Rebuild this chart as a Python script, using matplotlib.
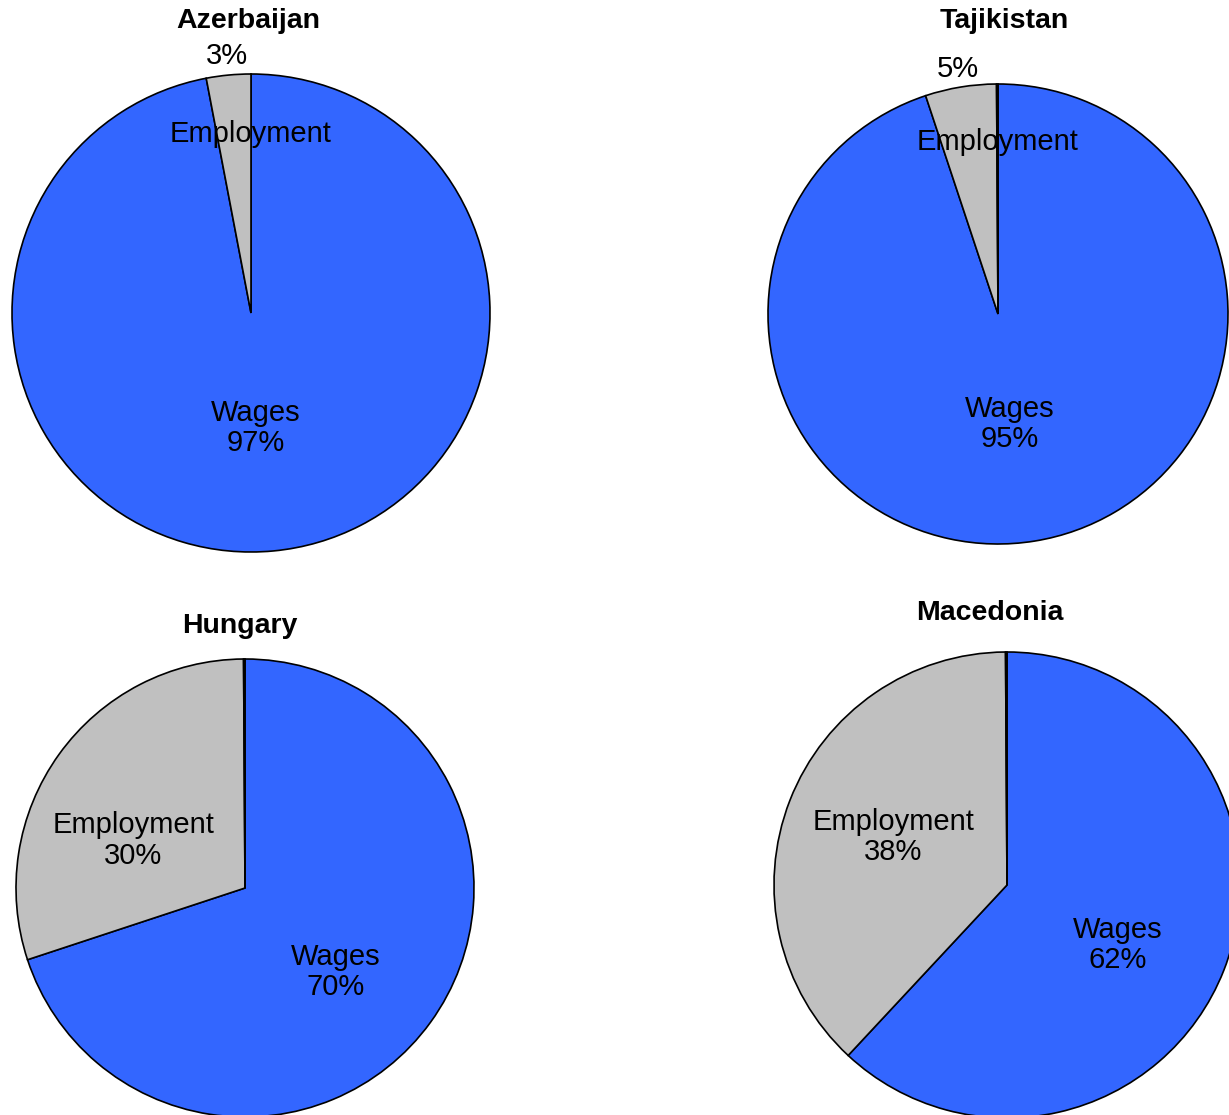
import numpy as np
import matplotlib.pyplot as plt

plt.rcParams['font.family'] = ['Liberation Sans', 'DejaVu Sans']

countries = ['Azerbaijan', 'Tajikistan', 'Hungary', 'Macedonia']
wages = [97, 95, 70, 62]
employment = [3, 5, 30, 38]
other = [0.0, 0.1, 0.1, 0.1]

# pie centre (px from top-left), radius (px), title position (px)
W, H = 1229, 1115
centers = [(251, 313), (998, 314), (245, 888), (1007, 885)]
radii = [239, 230, 229, 233]
title_pos = [(248, 21), (1004, 21), (240, 626), (990, 613)]

blue = '#3366FF'
grey = '#C0C0C0'
fs = 21

fig = plt.figure(figsize=(W / 100, H / 100), dpi=100)

for i, name in enumerate(countries):
    cx, cy = centers[i]
    r = radii[i]
    ax = fig.add_axes([(cx - r) / W, 1 - (cy + r) / H, 2 * r / W, 2 * r / H])
    vals = [wages[i], employment[i]]
    cols = [blue, grey]
    if other[i] > 0:
        vals.append(other[i])
        cols.append('black')
    wedges, _ = ax.pie(vals, colors=cols, startangle=90, counterclock=False,
                       radius=1, wedgeprops=dict(edgecolor='black', linewidth=1.2))
    for w in wedges:
        w.set_clip_on(False)
    ax.set_xlim(-1, 1)
    ax.set_ylim(-1, 1)
    ax.set_aspect('equal')
    ax.axis('off')

    total = sum(vals)
    small = employment[i] < 10
    # mid angles of the two slices
    a_w = 90 - 360 * wages[i] / total / 2
    a_e = 90 - 360 * (wages[i] + employment[i] / 2) / total
    t = np.deg2rad(a_w - (3 if small else 7))
    d = 0.48 if small else 0.54
    ax.text(d * np.cos(t), d * np.sin(t), f'Wages\n{wages[i]}%',
            ha='center', va='center', fontsize=fs, linespacing=1.1)
    te = np.deg2rad(a_e)
    if small:
        ax.text(0.0, 0.75, 'Employment', ha='center', va='center', fontsize=fs)
        ax.text(1.08 * np.cos(te), 1.08 * np.sin(te), f'{employment[i]}%',
                ha='center', va='center', fontsize=fs)
    else:
        ax.text(0.53 * np.cos(np.deg2rad(157)), 0.53 * np.sin(np.deg2rad(157)),
                f'Employment\n{employment[i]}%',
                ha='center', va='center', fontsize=fs, linespacing=1.1)

    tx, ty = title_pos[i]
    fig.text(tx / W, 1 - ty / H, name, ha='center', va='center',
             fontsize=fs - 0.5, fontweight='bold')

fig.savefig('out.png', dpi=100)
